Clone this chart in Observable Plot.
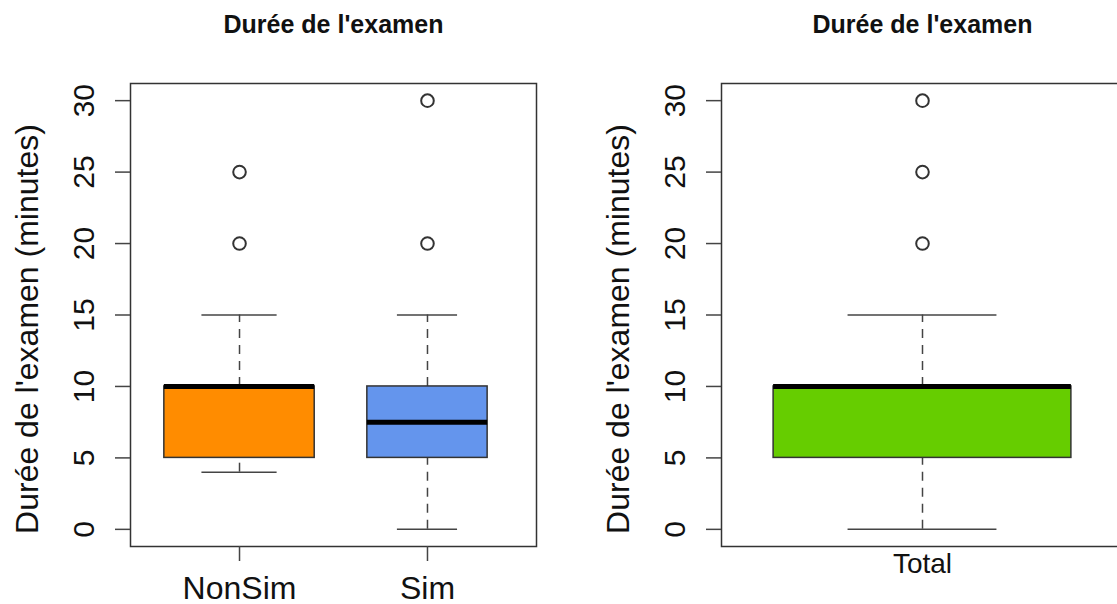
<!DOCTYPE html>
<html>
<head>
<meta charset="utf-8">
<script src="https://cdn.jsdelivr.net/npm/d3@7"></script>
<script src="https://cdn.jsdelivr.net/npm/@observablehq/plot@0.6"></script>
<style>
  html, body { margin: 0; padding: 0; background: #fff; overflow: hidden; }
  #wrap { position: relative; width: 1117px; height: 604px; overflow: hidden; }
  #left { position: absolute; left: 0; top: 0; width: 558px; height: 604px; }
  #right { position: absolute; left: 558px; top: 0; width: 565px; height: 604px; }
  svg { font-family: "Liberation Sans", Arial, Helvetica, sans-serif; }
</style>
</head>
<body>
<div id="wrap"><div id="left"></div><div id="right"></div></div>
<script>
// ---- data ----
const chartTitle = "Durée de l'examen";
const yLabel = "Durée de l'examen (minutes)";
const yTicks = [0, 5, 10, 15, 20, 25, 30];

const groups = ["NonSim", "Sim"];
const groupCounts = [25, 16];
const groupColors = ["#FF8C00", "#6495ED"];
const groupLow = [4, 0];
const groupQ1 = [5, 5];
const groupMedian = [10, 7.5];
const groupQ3 = [10, 10];
const groupHigh = [15, 15];
const outliersNonSim = [20, 25];
const outliersSim = [20, 30];

const totalGroup = ["Total"];
const totalColor = ["#66CD00"];
const totalLow = [0];
const totalQ1 = [5];
const totalMedian = [10];
const totalQ3 = [10];
const totalHigh = [15];
const outliersTotal = [20, 25, 30];

// ---- build tables ----
const maxN = d3.max(groupCounts);
const leftStats = groups.map((g, i) => ({
  name: g, pos: i + 1, w: 0.8 * Math.sqrt(groupCounts[i] / maxN), fill: groupColors[i],
  low: groupLow[i], q1: groupQ1[i], med: groupMedian[i], q3: groupQ3[i], high: groupHigh[i]
}));
const leftOut = [
  ...outliersNonSim.map(v => ({pos: 1, v})),
  ...outliersSim.map(v => ({pos: 2, v}))
];
const rightStats = totalGroup.map((g, i) => ({
  name: g, pos: i + 1, w: 0.8, fill: totalColor[i],
  low: totalLow[i], q1: totalQ1[i], med: totalMedian[i], q3: totalQ3[i], high: totalHigh[i]
}));
const rightOut = outliersTotal.map(v => ({pos: 1, v}));

const yDomain = [-1.2, 31.2];

function boxMarks(stats, outs) {
  return [
    Plot.ruleX(stats, {x: "pos", y1: "q3", y2: "high", stroke: "#444", strokeWidth: 1.5, strokeDasharray: "9,7"}),
    Plot.ruleX(stats, {x: "pos", y1: "low", y2: "q1", stroke: "#444", strokeWidth: 1.5, strokeDasharray: "9,7"}),
    Plot.ruleY(stats, {y: "high", x1: d => d.pos - d.w / 4, x2: d => d.pos + d.w / 4, stroke: "#444", strokeWidth: 1.5}),
    Plot.ruleY(stats, {y: "low", x1: d => d.pos - d.w / 4, x2: d => d.pos + d.w / 4, stroke: "#444", strokeWidth: 1.5}),
    Plot.rect(stats, {x1: d => d.pos - d.w / 2, x2: d => d.pos + d.w / 2, y1: "q1", y2: "q3", fill: "fill", stroke: "#333", strokeWidth: 1.5}),
    Plot.ruleY(stats, {y: "med", x1: d => d.pos - d.w / 2, x2: d => d.pos + d.w / 2, stroke: "#000", strokeWidth: 5}),
    Plot.dot(outs, {x: "pos", y: "v", r: 6.3, stroke: "#333", strokeWidth: 2, fill: "none"})
  ];
}

function commonMarks() {
  return [
    Plot.frame({stroke: "#333", strokeWidth: 1.5}),
    Plot.axisY({ticks: yTicks, tickSize: 15, tickFormat: () => "", label: null, stroke: "#444", strokeWidth: 1.5}),
    Plot.text(yTicks, {y: d => d, text: d => String(d), frameAnchor: "left", textAnchor: "middle", dx: -37, rotate: -90, lineAnchor: "bottom", fontSize: 30, fill: "#111"}),
    Plot.text([yLabel], {frameAnchor: "left", textAnchor: "middle", dx: -103, dy: 14, rotate: -90, lineAnchor: "middle", fontSize: 32, fill: "#111"}),
    Plot.text([chartTitle], {frameAnchor: "top", textAnchor: "middle", dy: -51, lineAnchor: "bottom", fontSize: 25, fontWeight: "bold", fill: "#111"})
  ];
}

const left = Plot.plot({
  width: 558, height: 604,
  marginLeft: 130, marginRight: 22, marginTop: 83, marginBottom: 58,
  style: {maxWidth: "none", fontFamily: "Liberation Sans, Arial, sans-serif", background: "transparent"},
  x: {domain: [0.42, 2.58], axis: null},
  y: {domain: yDomain, axis: null},
  marks: [
    ...boxMarks(leftStats, leftOut),
    ...commonMarks(),
    Plot.axisX({ticks: leftStats.map(d => d.pos), tickSize: 15, tickFormat: () => "", label: null, stroke: "#444", strokeWidth: 1.5}),
    Plot.text(leftStats, {x: "pos", text: "name", frameAnchor: "bottom", dy: 52, lineAnchor: "bottom", fontSize: 32, fill: "#111"})
  ]
});
document.getElementById("left").appendChild(left);

const right = Plot.plot({
  width: 565, height: 604,
  marginLeft: 163, marginRight: 0, marginTop: 83, marginBottom: 58,
  style: {maxWidth: "none", fontFamily: "Liberation Sans, Arial, sans-serif", background: "transparent"},
  x: {domain: [0.46, 1.54], axis: null},
  y: {domain: yDomain, axis: null},
  marks: [
    ...boxMarks(rightStats, rightOut),
    ...commonMarks(),
    Plot.text(rightStats, {x: "pos", text: "name", frameAnchor: "bottom", dy: 26, lineAnchor: "bottom", fontSize: 28, fill: "#111"})
  ]
});
document.getElementById("right").appendChild(right);
</script>
</body>
</html>
